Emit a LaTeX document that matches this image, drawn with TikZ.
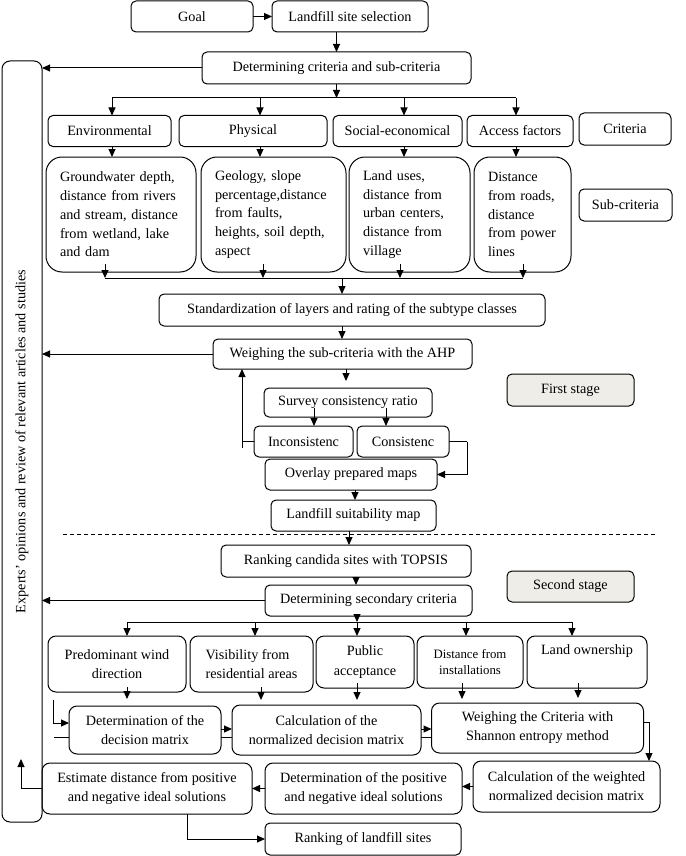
\documentclass[tikz,border=0pt]{standalone}
\usepackage{fontspec}
\setmainfont{Liberation Serif}
\usetikzlibrary{arrows.meta,calc}
\definecolor{stagegray}{RGB}{238,237,232}
\begin{document}
\begin{tikzpicture}[x=1pt,y=-1pt,
  every node/.style={font=\fontsize{14.2}{18.7}\selectfont, inner sep=0pt, outer sep=0pt},
  box/.style={draw, line width=1pt, rounded corners=5pt, align=center},
  bigbox/.style={box, rounded corners=16pt, align=left, inner xsep=14pt},
  midbox/.style={box, rounded corners=8pt},
  stagebox/.style={box, fill=stagegray},
  arr/.style={-{Triangle[length=8pt,width=7pt]}, line width=1pt},
  ln/.style={line width=1pt},
  dashline/.style={line width=1pt, dash pattern=on 4pt off 3pt}
]
\useasboundingbox (0,0) rectangle (685,856);

% top
\node[box, minimum width=122, minimum height=31] (goal) at (192,16.5) {Goal};
\node[box, minimum width=156, minimum height=31] (lss) at (350,16.5) {Landfill site selection};
\node[box, minimum width=269, minimum height=32] (dcs) at (336.5,68) {Determining criteria and sub-criteria};

% left bar
\node[box, rounded corners=8pt, minimum width=40, minimum height=761] (bar) at (22,441.5) {};
\node[rotate=90] (bartxt) at (bar.center) {Experts' opinions and review of relevant articles and studies};

% criteria
\node[box, minimum width=123, minimum height=31] (env) at (109.5,131) {Environmental};
\node[box, minimum width=148, minimum height=31] (phys) at (253,131) {Physical};
\node[box, minimum width=129, minimum height=31] (soc) at (397.5,131) {Social-economical};
\node[box, minimum width=106, minimum height=31] (acc) at (520,131) {Access factors};
\node[box, minimum width=92, minimum height=32] (crit) at (625,129) {Criteria};

% sub-criteria
\node[bigbox, text width=122, minimum height=115] (s1) at (121,214.5) {Groundwater depth,\\distance from rivers\\and stream, distance\\from wetland, lake\\and dam};
\node[bigbox, text width=117, minimum height=115] (s2) at (273.5,214.5) {Geology, slope\\percentage,distance\\from faults,\\heights, soil depth,\\aspect};
\node[bigbox, text width=93, minimum height=115] (s3) at (409.5,214.5) {Land uses,\\distance from\\urban centers,\\distance from\\village};
\node[bigbox, text width=69, minimum height=115] (s4) at (522.5,214.5) {Distance\\from roads,\\distance\\from power\\lines};
\node[box, minimum width=93, minimum height=32] (subc) at (625.5,205) {Sub-criteria};

% first stage
\node[box, minimum width=386, minimum height=32] (std) at (352,310) {Standardization of layers and rating of the subtype classes};
\node[box, minimum width=259, minimum height=30] (wsa) at (342.5,354) {Weighing the sub-criteria with the AHP};
\node[stagebox, minimum width=127, minimum height=32] (first) at (570.5,390) {First stage};
\node[box, minimum width=168, minimum height=29] (scr) at (348,402.5) {Survey consistency ratio};
\node[box, minimum width=99, minimum height=31] (inc) at (303.5,441.5) {Inconsistenc};
\node[box, minimum width=92, minimum height=31] (con) at (403,441.5) {Consistenc};
\node[box, minimum width=172, minimum height=31] (ovl) at (351,474.5) {Overlay prepared maps};
\node[box, minimum width=165, minimum height=31] (lsm) at (353.5,515.5) {Landfill suitability map};

% second stage
\node[box, minimum width=250, minimum height=32] (rct) at (346,561) {Ranking candida sites with TOPSIS};
\node[box, minimum width=207, minimum height=31] (dsc) at (368.5,600.5) {Determining secondary criteria};
\node[stagebox, minimum width=127, minimum height=31] (second) at (570.5,586.5) {Second stage};

\node[midbox, minimum width=138, minimum height=56, font=\fontsize{14.2}{19.3}\selectfont] (pwd) at (117,664) {Predominant wind\\direction};
\node[midbox, align=left, minimum width=123, minimum height=56, font=\fontsize{14.2}{19.3}\selectfont] (vis) at (251.5,664) {Visibility from\\residential areas};
\node[midbox, minimum width=98, minimum height=52, font=\fontsize{14.2}{19.3}\selectfont] (pub) at (365,662) {Public\\acceptance};
\node[midbox, minimum width=106, minimum height=52, font=\fontsize{12.8}{16.7}\selectfont] (dfi) at (470,662) {Distance from\\installations};
\node[midbox, minimum width=120, minimum height=52] (lo) at (587,662) {Land ownership\\\strut};

\node[midbox, minimum width=152, minimum height=48, font=\fontsize{14.2}{19}\selectfont] (dm) at (145,730) {Determination of the\\decision matrix};
\node[midbox, minimum width=189, minimum height=50, font=\fontsize{14.2}{19}\selectfont] (cnd) at (326.5,730) {Calculation of the\\normalized decision matrix};
\node[midbox, minimum width=212, minimum height=50, font=\fontsize{14.2}{19}\selectfont] (wcs) at (537.5,728) {Weighing the Criteria with\\Shannon entropy method};

\node[midbox, minimum width=210, minimum height=51, font=\fontsize{14.2}{19}\selectfont] (est) at (147,788.5) {Estimate distance from positive\\and negative ideal solutions};
\node[midbox, minimum width=197, minimum height=51, font=\fontsize{14.2}{19}\selectfont] (dpn) at (363.5,788.5) {Determination of the positive\\and negative ideal solutions};
\node[midbox, minimum width=187, minimum height=51, font=\fontsize{14.2}{19}\selectfont] (wnd) at (566.5,786.5) {Calculation of the weighted\\normalized decision matrix};
\node[box, minimum width=196, minimum height=32] (rls) at (363,839) {Ranking of landfill sites};

% ---------- connectors ----------
\draw[arr] (goal) -- (lss);
\draw[arr] (dcs.north |- lss.south) -- (dcs.north);
\draw[arr] (dcs.west) -- (dcs.west -| bar.east);

\coordinate (busA) at (336.5,98);
\coordinate (ca) at (112,98);
\coordinate (cb) at (260,98);
\coordinate (cc) at (404,98);
\coordinate (cd) at (516,98);
\draw[arr] (dcs.south) -- (busA);
\draw[ln] (ca) -- (cd);
\foreach \c/\n/\m in {ca/env/s1,cb/phys/s2,cc/soc/s3,cd/acc/s4}{
  \draw[arr] (\c) -- (\c |- \n.north);
  \draw[arr] (\c |- \n.south) -- (\c |- \m.north);
}

\coordinate (da) at (105,278);
\coordinate (db) at (263,278);
\coordinate (dc) at (400,278);
\coordinate (dd) at (523,278);
\draw[ln] (da) -- (dd);
\foreach \c/\n in {da/s1,db/s2,dc/s3,dd/s4}{
  \draw[arr] ($(\c |- \n.south)+(0,-8)$) -- (\c);
}
\coordinate (d0) at (342,278);
\draw[arr] (d0) -- (d0 |- std.north);
\draw[arr] (d0 |- std.south) -- (d0 |- wsa.north);
\draw[arr] (wsa.west) -- (wsa.west -| bar.east);

\coordinate (e0) at (346,381);
\draw[arr] (e0 |- wsa.south) -- (e0);
\coordinate (f1) at (314,0);
\coordinate (f2) at (386,0);
\draw[arr] ($(f1 |- scr.south)+(0,-9)$) -- (f1 |- inc.north);
\draw[arr] ($(f2 |- scr.south)+(0,-9)$) -- (f2 |- con.north);

\coordinate (g0) at (242,448);
\draw[ln] (inc.west) -- (inc.west -| g0);
\draw[arr] (g0) -- (g0 |- wsa.south);
\coordinate (h0) at (467,441.5);
\draw[ln] (con.east) -- (h0);
\draw[arr] (h0) |- (ovl.east);

\coordinate (i0) at (355,0);
\draw[arr] (i0 |- ovl.south) -- (i0 |- lsm.north);

\coordinate (dl) at (63,534);
\coordinate (dr) at (655,534);
\draw[dashline] (dl) -- (dr);

\coordinate (j0) at (349,0);
\draw[arr] (j0 |- lsm.south) -- (j0 |- rct.north);
\coordinate (k0) at (356,0);
\draw[arr] (k0 |- rct.south) -- (k0 |- dsc.north);
\draw[arr] (dsc.west) -- (dsc.west -| bar.east);

\coordinate (m0) at (357,622);
\coordinate (ma) at (127,622);
\coordinate (mb) at (255,622);
\coordinate (mc) at (357,622);
\coordinate (md) at (466,622);
\coordinate (me) at (572,622);
\draw[arr] (m0 |- dsc.south) -- (m0);
\draw[ln] (ma) -- (me);
\foreach \c/\n in {ma/pwd,mb/vis,mc/pub,md/dfi,me/lo}{
  \draw[arr] (\c) -- (\c |- \n.north);
}

\coordinate (na) at (127,699);
\coordinate (nb) at (261,700);
\coordinate (nc) at (357,700);
\coordinate (nd) at (462,699);
\coordinate (ne) at (578,698);
\foreach \c/\n in {na/pwd,nb/vis,nc/pub,nd/dfi,ne/lo}{
  \draw[arr] ($(\c |- \n.south)+(0,-5)$) -- (\c);
}

\coordinate (p0) at (53,700);
\coordinate (p1) at (53,723);
\draw[arr] (p0) -- (p1) -- (p1 -| dm.west);
\coordinate (p2) at (54,737);
\draw[ln] (p2) -- (p2 -| dm.west);

\coordinate (q1) at (0,729);
\coordinate (q2) at (0,737);
\draw[arr] (dm.east |- q1) -- (cnd.west |- q1);
\draw[ln] (dm.east |- q2) -- (cnd.west |- q2);
\draw[arr] (cnd.east |- q1) -- (wcs.west |- q1);
\draw[ln] (cnd.east |- q2) -- (wcs.west |- q2);

\coordinate (r0) at (649,722);
\draw[arr] (wcs.east |- r0) -- (r0) -- (r0 |- wnd.north);
\draw[arr] (wnd.west) -- (wnd.west -| dpn.east);
\draw[arr] (dpn.west) -- (dpn.west -| est.east);

\coordinate (s0) at (21,759);
\draw[arr] (est.west) -| (s0);
\coordinate (t0) at (187,0);
\draw[arr] (t0 |- est.south) |- (rls.west);
\end{tikzpicture}
\end{document}
